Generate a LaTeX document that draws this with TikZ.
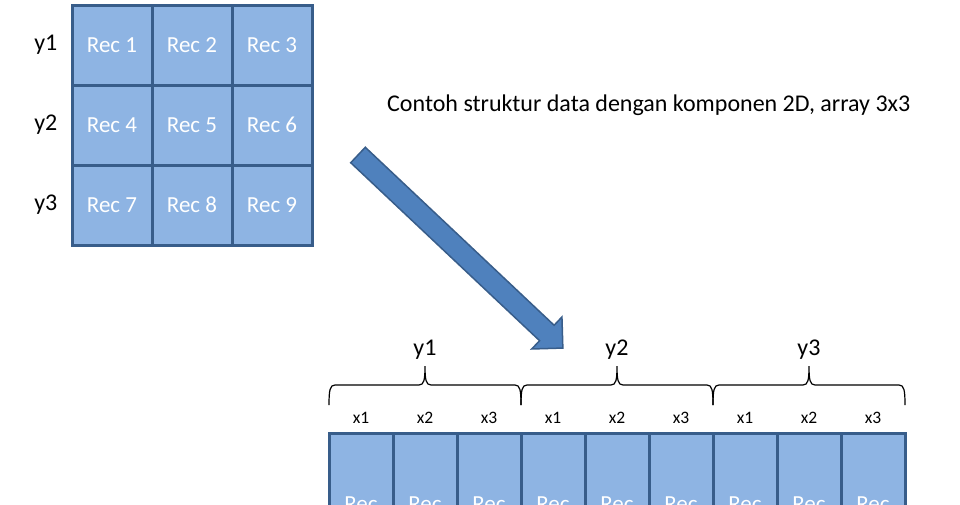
\documentclass[tikz,border=0pt]{standalone}
\usepackage{fontspec}
\setmainfont{Carlito}
\usetikzlibrary{positioning}

\definecolor{cellfill}{RGB}{142,180,227}
\definecolor{cellline}{RGB}{56,93,138}
\definecolor{arrowfill}{RGB}{79,129,189}

\begin{document}
\begin{tikzpicture}[x=1pt, y=-1pt,
    cell/.style={draw=cellline, line width=3pt, fill=cellfill, minimum width=80pt, minimum height=80pt, inner sep=0pt, text=white, font=\fontsize{23}{27}\selectfont},
    slot/.style={draw=cellline, line width=3pt, fill=cellfill, minimum width=64pt, minimum height=170pt, inner sep=0pt, text=white, align=center, font=\fontsize{23}{27}\selectfont},
    lbl/.style={inner sep=0pt, font=\fontsize{24}{28}\selectfont},
    small/.style={inner sep=0pt, font=\fontsize{17.5}{20}\selectfont},
    brace/.style={line width=1.2pt}]
    \clip (0,0) rectangle (960,504);

    % 1. Array 3x3
    \foreach \r in {0,1,2}
      \foreach \c in {0,1,2} {
        \pgfmathtruncatemacro{\idx}{3*\r+\c+1}
        \node[cell] (r\idx) at (112+80*\c, 45+80*\r) {Rec \idx};
      }

    % 2. Label baris
    \foreach \r in {1,2,3} {
      \pgfmathtruncatemacro{\first}{3*\r-2}
      \node[lbl, left=13pt of r\first] (y\r) {y\r};
    }

    % 3. Keterangan
    \node[font=\fontsize{24}{28}\selectfont, anchor=base west, inner sep=0pt] (caption) at (387,111) {Contoh struktur data dengan komponen 2D, array 3x3};

    % 4. Panah besar
    \begin{scope}[shift={(358,155)}, rotate=-43.3]
      \draw[fill=arrowfill, draw=cellline, line width=1.5pt] (0,-10.6) -- (259.5,-10.6) -- (259.5,-22) -- (281.5,0) -- (259.5,22) -- (259.5,10.6) -- (0,10.6) -- cycle;
    \end{scope}

    % 5. Array 1D
    \foreach \i in {1,...,9}
      \node[slot] (s\i) at (329+64*\i-32, 518) {Rec\\\i};

    % 6. Label kolom
    \foreach \i in {1,...,9} {
      \pgfmathtruncatemacro{\col}{mod(\i-1,3)+1}
      \node[small, above=8pt of s\i] (x\i) {x\col};
    }

    % 7. Kurung kurawal
    \foreach \g in {1,2,3} {
      \pgfmathsetmacro{\xa}{329+192*(\g-1)}
      \pgfmathsetmacro{\xm}{\xa+96}
      \pgfmathsetmacro{\xb}{\xa+192}
      \draw[brace] (\xa,405) .. controls (\xa,390) and (\xa+1,385) .. (\xa+6,385) -- (\xm-6,385) .. controls (\xm-1,385) and (\xm,380) .. (\xm,366) .. controls (\xm,380) and (\xm+1,385) .. (\xm+6,385) -- (\xb-6,385) .. controls (\xb-1,385) and (\xb,390) .. (\xb,405);
      \coordinate (tip\g) at (\xm,366);
      \node[lbl, above=6pt of tip\g] (g\g) {y\g};
    }
\end{tikzpicture}
\end{document}
